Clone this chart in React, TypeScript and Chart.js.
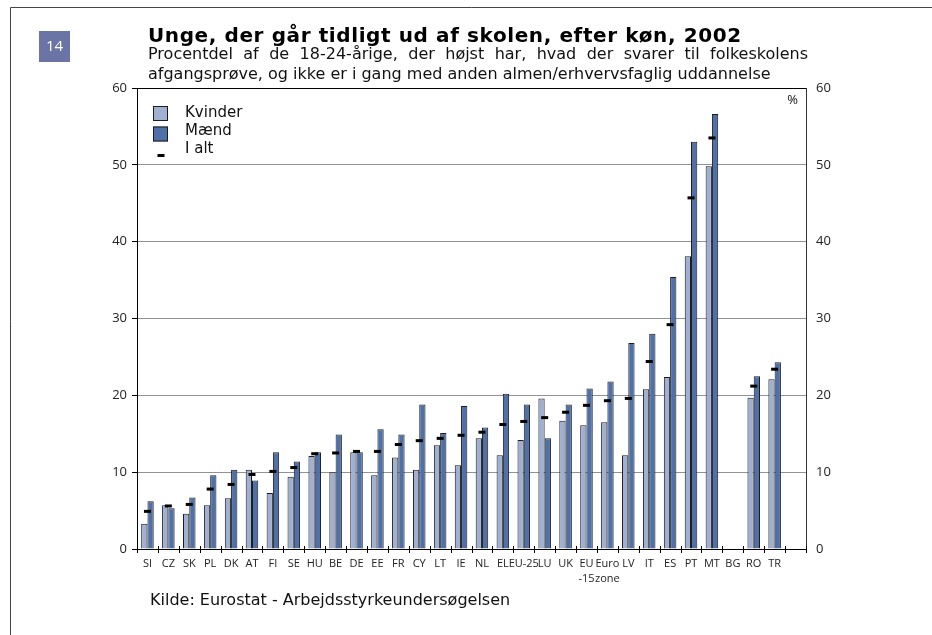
import React, { useEffect, useRef } from 'react';
import { Chart, registerables } from 'chart.js';

Chart.register(...registerables);

const categories: (string | string[])[] = [
  'SI', 'CZ', 'SK', 'PL', 'DK', 'AT', 'FI', 'SE', 'HU', 'BE', 'DE', 'EE', 'FR', 'CY', 'LT', 'IE',
  'NL', 'EL', 'EU-25', 'LU', 'UK', ['EU', '-15'], ['Euro', 'zone'], 'LV', 'IT', 'ES', 'PT', 'MT',
  'BG', 'RO', 'TR', '',
];

const kvinder: (number | null)[] = [
  3.3, 5.7, 4.6, 5.7, 6.6, 10.3, 7.3, 9.4, 12.1, 10.0, 12.6, 9.6, 11.9, 10.3, 13.5, 10.9,
  14.4, 12.2, 14.2, 19.6, 16.7, 16.1, 16.5, 12.2, 20.8, 22.4, 38.1, 49.8, null, 19.7, 22.1, null,
];

const maend: (number | null)[] = [
  6.2, 5.3, 6.7, 9.6, 10.3, 8.9, 12.6, 11.4, 12.6, 14.9, 12.6, 15.6, 14.9, 18.8, 15.1, 18.6,
  15.8, 20.2, 18.8, 14.4, 18.8, 20.9, 21.8, 26.8, 28.0, 35.4, 53.0, 56.6, null, 22.5, 24.3, null,
];

const iAlt: (number | null)[] = [
  4.9, 5.6, 5.8, 7.8, 8.4, 9.7, 10.1, 10.6, 12.4, 12.5, 12.7, 12.7, 13.6, 14.1, 14.4, 14.8,
  15.2, 16.2, 16.6, 17.1, 17.8, 18.7, 19.3, 19.6, 24.4, 29.2, 45.7, 53.5, null, 21.2, 23.4, null,
];

const seriesLabels = ['Kvinder', 'Mænd', 'I alt'];
const yTicks = [0, 10, 20, 30, 40, 50, 60];

const badgeText = '14';
const titleText = 'Unge, der går tidligt ud af skolen, efter køn, 2002';
const subtitleLines = [
  'Procentdel af de 18-24-årige, der højst har, hvad der svarer til folkeskolens',
  'afgangsprøve, og ikke er i gang med anden almen/erhvervsfaglig uddannelse',
];
const sourceText = 'Kilde: Eurostat - Arbejdsstyrkeundersøgelsen';
const unitText = '%';

const COLOR_K = '#9fb0d2';
const COLOR_M = '#4f71a7';
const BORDER = '#1c1c1c';
const SANS = '"DejaVu Sans", Verdana, sans-serif';
const AXIS_FONT = '"Open Sans", "Noto Sans", sans-serif';

const W = 932;
const H = 635;
const PLOT_LEFT = 137;
const PLOT_RIGHT = 806;
const PLOT_TOP = 88;
const PLOT_BOTTOM = 549;

function drawJustified(ctx: CanvasRenderingContext2D, text: string, x: number, y: number, width: number) {
  const words = text.split(' ');
  const widths = words.map((w) => ctx.measureText(w).width);
  const sum = widths.reduce((a, b) => a + b, 0);
  const gap = (width - sum) / (words.length - 1);
  let cx = x;
  words.forEach((w, i) => {
    ctx.fillText(w, cx, y);
    cx += widths[i] + gap;
  });
}

const decorPlugin = {
  id: 'decor',
  beforeDraw(chart: any) {
    const ctx = chart.ctx as CanvasRenderingContext2D;
    ctx.save();
    ctx.fillStyle = '#ffffff';
    ctx.fillRect(0, 0, chart.width, chart.height);
    ctx.restore();
  },
  afterDraw(chart: any) {
    const ctx = chart.ctx as CanvasRenderingContext2D;
    const area = chart.chartArea;
    const xs = chart.scales.x;
    ctx.save();

    // frame
    ctx.strokeStyle = '#444';
    ctx.lineWidth = 1;
    ctx.beginPath();
    ctx.moveTo(10.5, H);
    ctx.lineTo(10.5, 7.5);
    ctx.lineTo(W, 7.5);
    ctx.stroke();

    // badge
    ctx.fillStyle = '#6a75a5';
    ctx.fillRect(39, 31, 31, 31);
    ctx.fillStyle = '#ffffff';
    ctx.font = '15px ' + AXIS_FONT;
    ctx.textAlign = 'center';
    ctx.textBaseline = 'middle';
    ctx.fillText(badgeText, 54.5, 47);

    // title
    ctx.textAlign = 'left';
    ctx.textBaseline = 'alphabetic';
    ctx.fillStyle = '#000';
    ctx.font = 'bold 20px ' + SANS;
    (ctx as any).letterSpacing = '0.6px';
    ctx.fillText(titleText, 148, 42);
    (ctx as any).letterSpacing = '0px';

    ctx.font = '16px ' + SANS;
    ctx.fillStyle = '#111';
    drawJustified(ctx, subtitleLines[0], 148, 59, 660);
    ctx.fillText(subtitleLines[1], 148, 79);

    // source
    ctx.fillText(sourceText, 150, 605);

    // unit
    ctx.font = '13px ' + AXIS_FONT;
    ctx.textAlign = 'right';
    ctx.fillText(unitText, area.right - 8, 104);

    // x tick marks at category boundaries
    ctx.strokeStyle = '#000';
    ctx.lineWidth = 1;
    const n = categories.length;
    const step = (xs.getPixelForValue(1) - xs.getPixelForValue(0));
    ctx.beginPath();
    for (let i = 0; i <= n; i++) {
      const bx = Math.round(xs.getPixelForValue(i) - step / 2) + 0.5;
      ctx.moveTo(bx, area.bottom - 3);
      ctx.lineTo(bx, area.bottom + 4);
    }
    ctx.stroke();

    // legend
    const ds = chart.data.datasets;
    const lx = area.left + 16;
    const boxTops = [area.top + 18, area.top + 38.5];
    const textBase = [area.top + 29, area.top + 47, area.top + 64.5];
    ctx.lineWidth = 1;
    for (let i = 0; i < 2; i++) {
      ctx.fillStyle = ds[i].backgroundColor;
      ctx.fillRect(lx, boxTops[i], 15, 15);
      ctx.strokeStyle = BORDER;
      ctx.strokeRect(lx + 0.5, boxTops[i] + 0.5, 14, 14);
    }
    ctx.fillStyle = '#000';
    ctx.fillRect(lx + 4.5, area.top + 66, 7, 3);
    ctx.font = '15px ' + SANS;
    ctx.textAlign = 'left';
    ctx.fillStyle = '#111';
    for (let i = 0; i < 3; i++) {
      ctx.fillText(ds[i].label, area.left + 48, textBase[i]);
    }

    ctx.restore();
  },
};

export default function App() {
  const ref = useRef<HTMLCanvasElement | null>(null);

  useEffect(() => {
    if (!ref.current) return;
    const chart = new Chart(ref.current, {
      type: 'bar',
      data: {
        labels: categories,
        datasets: [
          {
            label: seriesLabels[0],
            data: kvinder,
            backgroundColor: COLOR_K,
            borderColor: BORDER,
            borderWidth: 1,
            order: 2,
          } as any,
          {
            label: seriesLabels[1],
            data: maend,
            backgroundColor: COLOR_M,
            borderColor: BORDER,
            borderWidth: 1,
            order: 2,
          } as any,
          {
            type: 'line',
            label: seriesLabels[2],
            data: iAlt,
            showLine: false,
            pointStyle: 'line',
            pointRadius: 3.5,
            pointBorderWidth: 3,
            pointBorderColor: '#000',
            borderColor: '#000',
            backgroundColor: '#000',
            order: 0,
          } as any,
        ],
      },
      options: {
        responsive: false,
        animation: false,
        devicePixelRatio: 1,
        layout: { padding: { top: PLOT_TOP, left: 0, right: 0, bottom: 0 } },
        plugins: {
          legend: { display: false },
          tooltip: { enabled: false },
          title: { display: false },
        },
        datasets: {
          bar: { categoryPercentage: 0.6, barPercentage: 1.0 },
        },
        scales: {
          x: {
            grid: { display: true, drawOnChartArea: false, drawTicks: false },
            border: { display: true, color: '#000', width: 1 },
            ticks: {
              autoSkip: false,
              maxRotation: 0,
              minRotation: 0,
              padding: 7,
              color: '#222',
              font: { family: 'Open Sans', size: 11, lineHeight: 1.36 },
            },
            afterFit: (s: any) => { s.height = H - PLOT_BOTTOM; },
          },
          y: {
            position: 'left',
            min: 0,
            max: 60,
            afterBuildTicks: (s: any) => { s.ticks = yTicks.map((v) => ({ value: v })); },
            grid: {
              color: (c: any) => (c.tick && (c.tick.value === 60 || c.tick.value === 0) ? '#000' : '#939393'),
              tickColor: '#000',
              tickLength: 5,
              lineWidth: 1,
            },
            border: { display: true, color: '#000', width: 1 },
            ticks: {
              padding: 5,
              color: '#222',
              font: { family: 'Open Sans', size: 13 },
            },
            afterFit: (s: any) => { s.width = PLOT_LEFT; },
          },
          y2: {
            position: 'right',
            min: 0,
            max: 60,
            afterBuildTicks: (s: any) => { s.ticks = yTicks.map((v) => ({ value: v })); },
            grid: { drawOnChartArea: false, drawTicks: false },
            border: { display: true, color: '#333', width: 1 },
            ticks: {
              padding: 10,
              color: '#222',
              font: { family: 'Open Sans', size: 13 },
            },
            afterFit: (s: any) => { s.width = W - PLOT_RIGHT; },
          },
        },
      },
      plugins: [decorPlugin],
    });
    return () => chart.destroy();
  }, []);

  return (
    <div style={{ position: 'absolute', left: 0, top: 0, width: W, height: H, background: '#fff' }}>
      <canvas ref={ref} width={W} height={H} style={{ display: 'block', width: W, height: H }} />
    </div>
  );
}
